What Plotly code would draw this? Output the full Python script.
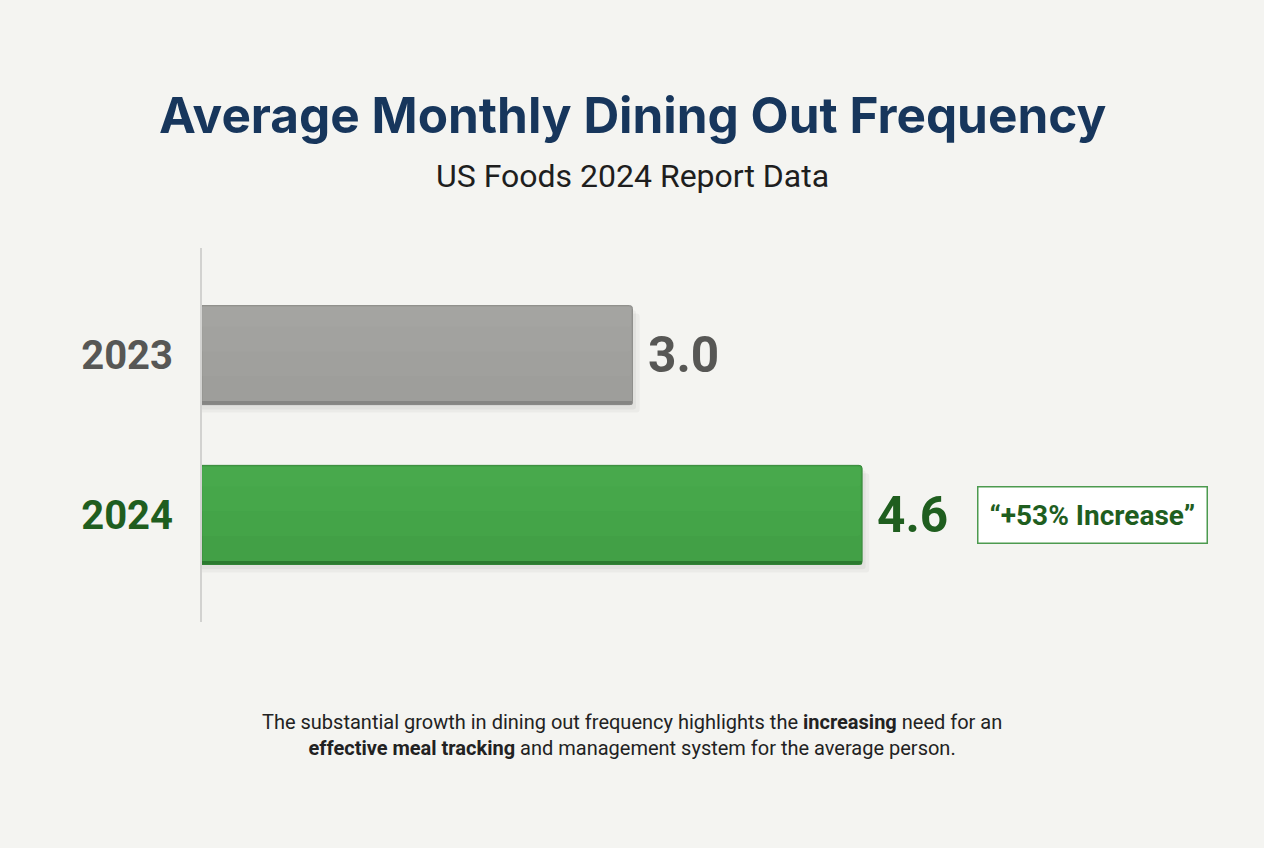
import plotly.graph_objects as go

# ---- data ----
years = ["2023", "2024"]
values = [3.0, 4.6]
value_labels = ["3.0", "4.6"]
badge_text = "“+53% Increase”"
title_text = "Average Monthly Dining Out Frequency"
subtitle_text = "US Foods 2024 Report Data"
footer_text = ("The substantial growth in dining out frequency highlights the <b>increasing</b> need for an<br>"
               "<b>effective meal tracking</b> and management system for the average person.")

# ---- styles ----
bar_colors = ["#9e9e9b", "#42a046"]
top_colors = ["#a8a8a5", "#4caf50"]
edge_colors = ["#8f8f8c", "#38893b"]
bottom_colors = ["#858583", "#2b7a2f"]
label_colors = ["#575755", "#1f5e1f"]
bg = "#f4f4f1"

W, H = 1264, 848
ml, mr, mt, mb = 202, 0, 248, 226
px_per_unit = 143.5
xmax = (W - ml - mr) / px_per_unit
bw = 0.62
pos = list(range(len(years)))

fig = go.Figure()
# soft shadow (two layers)
for extra, dy, a in [(0.05, 0.05, 0.035), (0.025, 0.03, 0.04)]:
    fig.add_trace(go.Bar(
        y=pos, x=[v + extra for v in values], orientation="h",
        marker=dict(color=f"rgba(0,0,0,{a})", line=dict(width=0)),
        width=bw, offset=-bw / 2 + dy, hoverinfo="skip", showlegend=False,
    ))
fig.add_trace(go.Bar(
    y=pos, x=values, orientation="h",
    marker=dict(color=bar_colors, line=dict(color=edge_colors, width=1)),
    width=bw, offset=-bw / 2, hoverinfo="skip", showlegend=False,
))
# lighter upper bands (gentle gradient impression)
for frac, op in [(0.7, 0.25), (0.45, 0.3), (0.2, 0.35)]:
    fig.add_trace(go.Bar(
        y=pos, x=[v - 0.01 for v in values], orientation="h",
        marker=dict(color=top_colors, opacity=op, line=dict(width=0)),
        width=bw * frac, offset=-bw / 2 + 0.008, hoverinfo="skip", showlegend=False,
    ))
# darker bottom edge
fig.add_trace(go.Bar(
    y=pos, x=values, orientation="h",
    marker=dict(color=bottom_colors, line=dict(width=0)),
    width=0.022, offset=bw / 2 - 0.022, hoverinfo="skip", showlegend=False,
))

ticktext = [f'<b><span style="color:{c}">{y}</span></b>' for y, c in zip(years, label_colors)]

for p, v, lab, c in zip(pos, values, value_labels, label_colors):
    fig.add_annotation(x=v, y=p, xref="x", yref="y", text=f"<b>{lab}</b>",
                       showarrow=False, xanchor="left", xshift=13,
                       font=dict(family="Roboto", size=49.5, color=c))

fig.add_annotation(x=values[1], y=pos[1], xref="x", yref="y", text=f"<b>{badge_text}</b>",
                   showarrow=False, xanchor="left", xshift=115,
                   font=dict(family="Roboto", size=28, color="#1f5e1f"),
                   bgcolor="#ffffff", bordercolor="#4c9a4f", borderwidth=1.5, borderpad=11)

plot_h = H - mt - mb
plot_w = W - ml - mr
cx = (W / 2 - ml) / plot_w

fig.add_annotation(x=cx, y=1 + (mt - 115) / plot_h, xref="paper", yref="paper",
                   text=f"<b>{title_text}</b>", showarrow=False, xanchor="center", yanchor="middle",
                   font=dict(family="Inter", size=49.5, color="#17365c", weight=800))
fig.add_annotation(x=cx, y=1 + (mt - 176) / plot_h, xref="paper", yref="paper",
                   text=subtitle_text, showarrow=False, xanchor="center", yanchor="middle",
                   font=dict(family="Roboto", size=32, color="#1e1e1e"))
fig.add_annotation(x=cx, y=(mt + plot_h - 735) / plot_h, xref="paper", yref="paper",
                   text=footer_text, showarrow=False, xanchor="center", yanchor="middle", align="center",
                   font=dict(family="Roboto", size=20, color="#222222"))

fig.update_layout(
    width=W, height=H,
    margin=dict(l=ml, r=mr, t=mt, b=mb),
    paper_bgcolor=bg, plot_bgcolor=bg,
    barmode="overlay",
    barcornerradius=3,
    xaxis=dict(range=[0, xmax], visible=False, fixedrange=True),
    yaxis=dict(range=[1.67, -0.67], showgrid=False, zeroline=False,
               showline=True, linecolor="#d2d2d0", linewidth=2,
               tickmode="array", tickvals=pos, ticktext=ticktext,
               ticks="", ticklabelstandoff=19,
               tickfont=dict(family="Roboto", size=40)),
)

fig.write_html("out.html")
